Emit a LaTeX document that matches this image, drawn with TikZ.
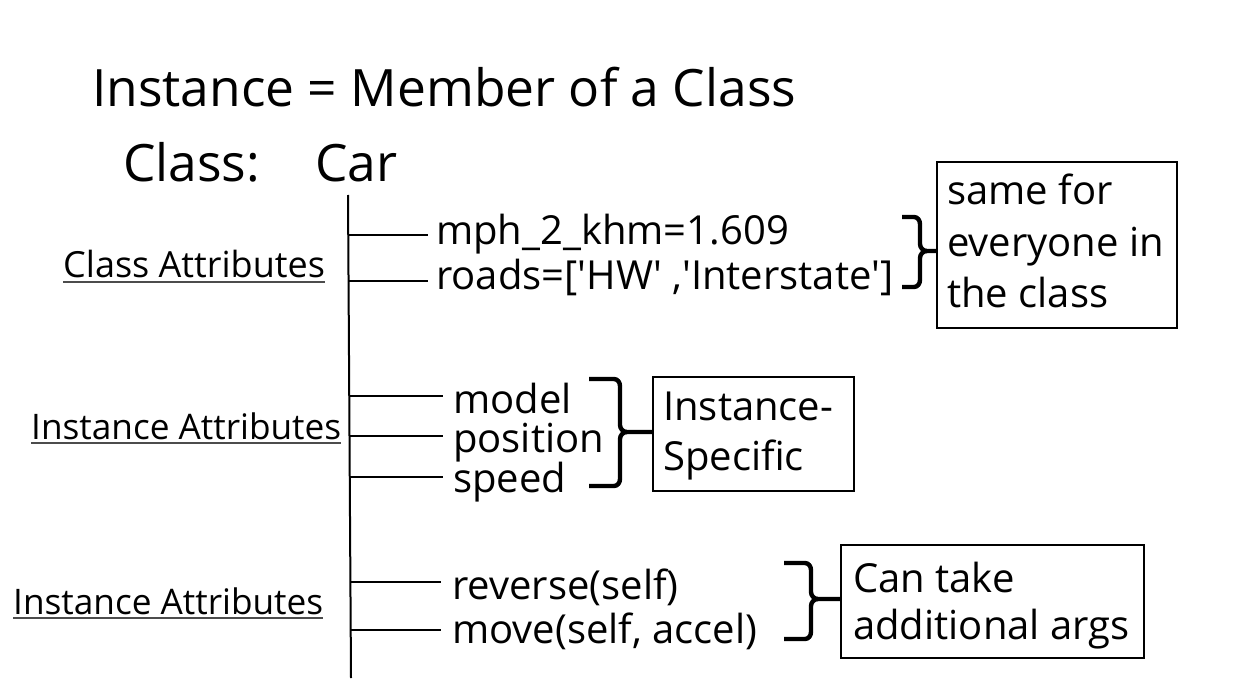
\documentclass[tikz,border=0pt]{standalone}
\usepackage{fontspec}
\setmainfont{Open Sans}[Ligatures=TeXOff]
\newcommand\setfs[1]{\fontsize{#1}{#1}\selectfont}
\newcommand\mybrace[6]{%
  \draw[brc] (#1,#3) -- (#2-6,#3) to[out=0,in=90] (#2,#3+7) -- (#2,#4-7)
    to[out=270,in=180] (#2+7,#4) -- (#6,#4);
  \draw[brc] (#2+7,#4) to[out=180,in=90] (#2,#4+7) -- (#2,#5-7)
    to[out=270,in=0] (#2-6,#5) -- (#1,#5);}
\begin{document}
\begin{tikzpicture}[x=1pt,y=-1pt,
  txt/.style={inner sep=0pt, anchor=base west, font=\setfs{40}},
  big/.style={inner sep=0pt, anchor=base west, font=\setfs{51.5}},
  lbl/.style={inner sep=0pt, anchor=base west, font=\setfs{36}},
  lbli/.style={inner sep=0pt, anchor=base west, font=\setfs{35.2}},
  boxn/.style={draw, line width=2pt, inner sep=0pt, anchor=north west},
  branch/.style={line width=1.6pt},
  trunk/.style={line width=2pt},
  ul/.style={line width=1.8pt, draw=black!70},
  brc/.style={line width=4.4pt, line join=round}]
\useasboundingbox (0,0) rectangle (1243,695);

% titles
\node[big] (title) at (92,107) {Instance = Member of a Class};
\node[big] (cls) at (123,182) {Class:};
\node[big] (car) at (315,182) {Car};

% trunk
\coordinate (ttop) at (348,195);
\coordinate (tbot) at (351,678);
\draw[trunk] (ttop) -- (tbot);

% section labels
\node[lbl] (ca) at (63,278) {Class Attributes};
\draw[ul] ([yshift=-4pt]ca.base west) -- ([yshift=-4pt]ca.base east);
\node[lbli] (ia1) at (31,439) {Instance Attributes};
\draw[ul] ([yshift=-4pt]ia1.base west) -- ([yshift=-4pt]ia1.base east);
\node[lbli] (ia2) at (13,614) {Instance Attributes};
\draw[ul] ([yshift=-4pt]ia2.base west) -- ([yshift=-4pt]ia2.base east);

% section 1
\node[txt] (mph) at (436,245) {mph\_2\_khm=1.609};
\node[txt] (roads) at (436,290) {roads=['HW' ,'Interstate']};
\draw[branch] (349,235) -- (428,235);
\draw[branch] (349,281) -- (428,281);
\node[boxn, minimum width=240pt, minimum height=166pt] (b1) at (936,161) {};
\node[txt] (s1a) at (947,205) {same for};
\node[txt] (s1b) at (947,257) {everyone in};
\node[txt] (s1c) at (947,307) {the class};
\mybrace{902}{920}{217}{251}{287}{936}

% section 2
\node[txt] (model) at (453,413) {model};
\node[txt] (pos) at (453,452) {position};
\node[txt] (speed) at (453,492) {speed};
\draw[branch] (349,396) -- (443,396);
\draw[branch] (349,436) -- (443,436);
\draw[branch] (350,477) -- (443,477);
\node[boxn, minimum width=201pt, minimum height=114pt] (b2) at (652,376) {};
\node[txt] (s2a) at (663,420) {Instance-};
\node[txt] (s2b) at (663,470) {Specific};
\mybrace{589}{620}{379}{432}{486}{652}

% section 3
\node[txt] (rev) at (452,599) {reverse(self)};
\node[txt] (move) at (452,643) {move(self, accel)};
\draw[branch] (350,582) -- (441,582);
\draw[branch] (350,630) -- (441,630);
\node[boxn, minimum width=303pt, minimum height=113pt] (b3) at (840,544) {};
\node[txt] (s3a) at (853,592) {Can take};
\node[txt] (s3b) at (853,639) {additional args};
\mybrace{784}{811}{563}{599}{639}{840}
\end{tikzpicture}
\end{document}
